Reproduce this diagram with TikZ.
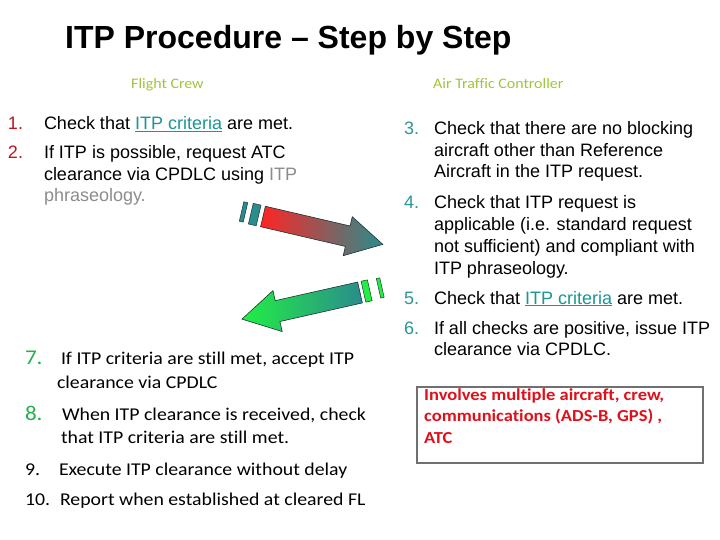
\documentclass[tikz,border=0pt]{standalone}
\usepackage{fontspec}
\setmainfont{Liberation Sans}
\newfontfamily\arialf[Ligatures=TeX]{Liberation Sans}
\newfontfamily\calib[FakeStretch=1.1, Ligatures={NoCommon}]{Carlito}
\definecolor{numred}{HTML}{C0141C}
\definecolor{tealn}{HTML}{2E9696}
\definecolor{linkc}{HTML}{1A9696}
\definecolor{grayt}{HTML}{8C8C8C}
\definecolor{hdrg}{HTML}{9FC63B}
\definecolor{greenn}{HTML}{22B14C}
\definecolor{boxred}{HTML}{E0101B}
\definecolor{boxgray}{HTML}{707070}
\definecolor{arred}{HTML}{FF2424}
\definecolor{arteal}{HTML}{2A8C8C}
\definecolor{argreen}{HTML}{22EE44}
\definecolor{outl}{HTML}{1E3434}
\newcommand\myul[1]{\underline{#1}}
\tikzset{
  txt/.style={anchor=base west, inner sep=0pt, outer sep=0pt, font=\arialf\fontsize{18}{21}\selectfont},
  ctxt/.style={anchor=base west, inner sep=0pt, outer sep=0pt, font=\calib\fontsize{18}{21}\selectfont},
  hdr/.style={anchor=base west, inner sep=0pt, font=\calib\fontsize{14.5}{17}\selectfont, text=hdrg},
  btxt/.style={anchor=base west, inner sep=0pt, font=\calib\bfseries\fontsize{16.8}{20}\selectfont, text=boxred},
  arrowshape/.style={draw=outl, line width=0.6pt, line join=miter},
}
\begin{document}
\begin{tikzpicture}[x=1pt,y=-1pt]
\useasboundingbox (0,0) rectangle (720,540);
\fill[white] (0,0) rectangle (720,540);

% title
\node[anchor=base west, inner sep=0pt, font=\arialf\bfseries\fontsize{32}{36}\selectfont] (title) at (65,49) {ITP Procedure – Step by Step};

% headers
\node[hdr] (hfc) at (131,89) {Flight Crew};
\node[hdr] (hatc) at (433,89) {Air Traffic Controller};

% left list
\node[txt, text=numred] (n1) at (8,130) {1.};
\node[txt] (l1a) at (44,130) {Check that \textcolor{linkc}{\myul{ITP criteria}} are met.};
\node[txt, text=numred] (n2) at (8,159) {2.};
\node[txt] (l2a) at (44,159) {If ITP is possible, request ATC};
\node[txt] (l2b) at (44,181) {clearance via CPDLC using \textcolor{grayt}{ITP}};
\node[txt, text=grayt] (l2c) at (44,202) {phraseology.};

% right list
\node[txt, text=tealn] (n3) at (404,135) {3.};
\node[txt] (r3a) at (434,135) {Check that there are no blocking};
\node[txt] (r3b) at (434,157) {aircraft other than Reference};
\node[txt] (r3c) at (434,178) {Aircraft in the ITP request.};
\node[txt, text=tealn] (n4) at (404,209) {4.};
\node[txt] (r4a) at (434,209) {Check that ITP request is};
\node[txt] (r4b) at (434,230) {applicable (i.e. standard request};
\node[txt] (r4c) at (434,252) {not sufficient) and compliant with};
\node[txt] (r4d) at (434,274) {ITP phraseology.};
\node[txt, text=tealn] (n5) at (404,304) {5.};
\node[txt] (r5a) at (434,304) {Check that \textcolor{linkc}{\myul{ITP criteria}} are met.};
\node[txt, text=tealn] (n6) at (404,334) {6.};
\node[txt] (r6a) at (434,334) {If all checks are positive, issue ITP};
\node[txt] (r6b) at (434,355) {clearance via CPDLC.};

% lower left list
\node[ctxt, text=greenn, font=\calib\fontsize{21}{24}\selectfont] (n7) at (25,364) {7.};
\node[ctxt] (l7a) at (61,364) {If ITP criteria are still met, accept ITP};
\node[ctxt] (l7b) at (57,388) {clearance via CPDLC};
\node[ctxt, text=greenn, font=\calib\fontsize{21}{24}\selectfont] (n8) at (25,420) {8.};
\node[ctxt] (l8a) at (62,420) {When ITP clearance is received, check};
\node[ctxt] (l8b) at (61,443) {that ITP criteria are still met.};
\node[ctxt] (n9) at (25,475) {9.};
\node[ctxt] (l9a) at (59,475) {Execute ITP clearance without delay};
\node[ctxt] (n10) at (25,505) {10.};
\node[ctxt] (l10a) at (60,505) {Report when established at cleared FL};

% box
\draw[boxgray, line width=2pt] (416.5,387) rectangle (702.5,463);
\node[btxt] (b1) at (424,400.5) {Involves multiple aircraft, crew,};
\node[btxt] (b2) at (424,421.5) {communications (ADS-B, GPS) ,};
\node[btxt] (b3) at (424,443) {ATC};

% arrow 1 (to ATC)
\begin{scope}[shift={(263,216.5)}, rotate=-13.1]
  \shade[arrowshape, left color=arred, right color=arteal]
    (0,-10.5) -- (87,-10.5) -- (87,-20) -- (123,0) -- (87,20) -- (87,10.5) -- (0,10.5) -- cycle;
  \fill[arteal, draw=outl, line width=0.5pt] (-12.5,-10.6) rectangle (-4.5,10.6);
  \fill[arteal, draw=outl, line width=0.5pt] (-22,-10) rectangle (-18,10);
\end{scope}

% arrow 2 (to crew)
\begin{scope}[shift={(360,292.5)}, rotate=192.7]
  \shade[arrowshape, left color=argreen, right color=arteal]
    (0,-10.7) -- (84.5,-10.7) -- (84.5,-21) -- (121,0) -- (84.5,21) -- (84.5,10.7) -- (0,10.7) -- cycle;
  \fill[argreen, draw=outl, line width=0.5pt] (-10,-10.7) rectangle (-3.5,10.7);
  \fill[argreen, draw=outl, line width=0.5pt] (-22.5,-10) rectangle (-19,10);
\end{scope}
\end{tikzpicture}
\end{document}
